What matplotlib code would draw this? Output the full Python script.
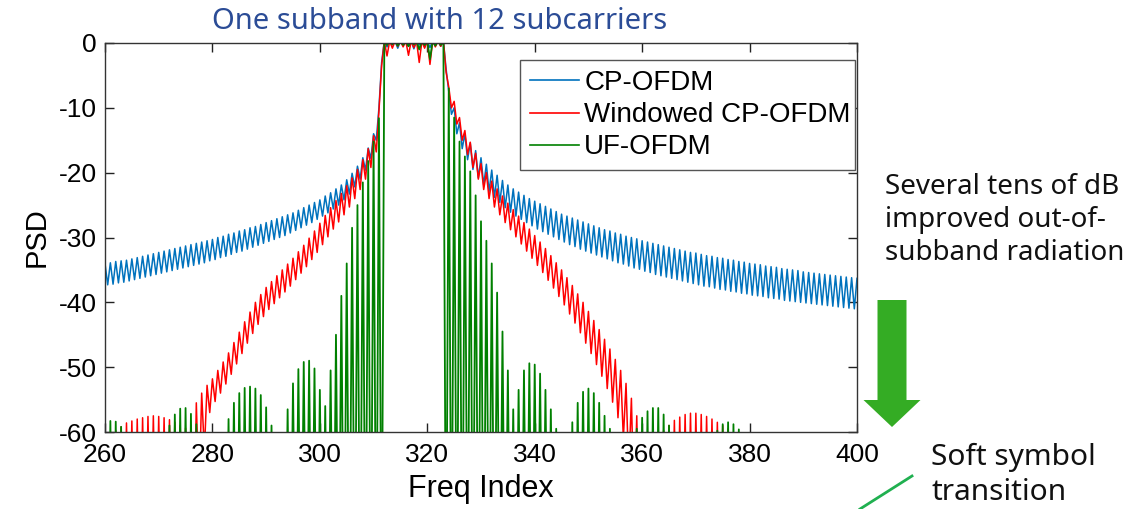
import matplotlib.pyplot as plt
import numpy as np
from matplotlib.patches import FancyArrow

# Spectrum. The curves ripple once per subcarrier, so each
# series is stored as its local maxima (at integer index 260..400) and its
# local minima (at the half index 260.5..399.5 in between).
# Values far below -60 dB are simply "off the chart" and get clipped.
FREQ_START = 260
FREQ_STOP = 400

cp_ofdm_peaks = [
    -34.0, -33.9, -33.7, -33.6, -33.5, -33.3, -33.1, -32.9, -32.7, -32.5,  # 260
    -32.3, -32.1, -31.9, -31.7, -31.5, -31.3, -31.1, -30.9, -30.7, -30.5,  # 270
    -30.3, -30.0, -29.8, -29.5, -29.3, -29.0, -28.8, -28.5, -28.3, -28.0,  # 280
    -27.7, -27.4, -27.1, -26.8, -26.5, -26.2, -25.8, -25.4, -25.0, -24.6,  # 290
    -24.2, -23.6, -23.1, -22.5, -21.9, -21.1, -20.1, -19.0, -17.7, -16.2,  # 300
    -14.0, -10.0, 0.3, 0.3, 0.3, 0.3, 0.3, 0.3, 0.3, 0.3,  # 310
    0.3, 0.3, 0.3, 0.3, -7.5, -10.0, -12.3, -14.0, -15.4, -16.6,  # 320
    -17.7, -18.7, -19.6, -20.4, -21.2, -21.9, -22.5, -23.0, -23.5, -24.0,  # 330
    -24.4, -24.8, -25.2, -25.6, -26.0, -26.4, -26.7, -27.0, -27.3, -27.6,  # 340
    -27.9, -28.2, -28.5, -28.8, -29.0, -29.3, -29.5, -29.8, -30.0, -30.2,  # 350
    -30.5, -30.7, -30.9, -31.1, -31.3, -31.5, -31.7, -31.9, -32.1, -32.3,  # 360
    -32.4, -32.6, -32.8, -32.9, -33.1, -33.2, -33.4, -33.5, -33.7, -33.8,  # 370
    -34.0, -34.1, -34.2, -34.4, -34.5, -34.6, -34.8, -34.9, -35.0, -35.1,  # 380
    -35.3, -35.4, -35.5, -35.6, -35.7, -35.8, -35.9, -36.0, -36.1, -36.2,  # 390
    -36.3,  # 400
]
cp_ofdm_dips = [
    -37.3, -37.2, -37.0, -36.9, -36.7, -36.5, -36.3, -36.1, -35.9, -35.7,  # 260.5
    -35.5, -35.3, -35.1, -34.9, -34.7, -34.5, -34.3, -34.1, -33.9, -33.6,  # 270.5
    -33.4, -33.1, -32.9, -32.6, -32.3, -32.1, -31.8, -31.5, -31.2, -30.9,  # 280.5
    -30.6, -30.3, -30.0, -29.7, -29.3, -28.9, -28.5, -28.1, -27.7, -27.2,  # 290.5
    -26.7, -26.2, -25.6, -25.0, -24.2, -23.3, -22.2, -21.0, -19.6, -17.8,  # 300.5
    -15.0, -3.0, -0.6, -0.3, -0.8, -0.4, -0.5, -0.9, -0.3, -0.6,  # 310.5
    -0.7, -0.4, -0.5, -4.0, -11.0, -14.0, -16.3, -18.0, -19.5, -20.8,  # 320.5
    -21.9, -22.9, -23.8, -24.6, -25.4, -26.1, -26.7, -27.2, -27.7, -28.2,  # 330.5
    -28.7, -29.1, -29.5, -29.9, -30.3, -30.7, -31.1, -31.4, -31.8, -32.1,  # 340.5
    -32.4, -32.7, -33.0, -33.3, -33.6, -33.9, -34.1, -34.4, -34.7, -34.9,  # 350.5
    -35.2, -35.4, -35.7, -35.9, -36.1, -36.3, -36.5, -36.7, -36.9, -37.1,  # 360.5
    -37.3, -37.5, -37.6, -37.8, -38.0, -38.1, -38.3, -38.4, -38.6, -38.7,  # 370.5
    -38.9, -39.0, -39.1, -39.3, -39.4, -39.5, -39.7, -39.8, -39.9, -40.0,  # 380.5
    -40.1, -40.2, -40.3, -40.4, -40.5, -40.6, -40.7, -40.8, -40.9, -41.0,  # 390.5
]

windowed_peaks = [
    -66.0, -62.0, -59.8, -59.2, -58.6, -58.3, -58.0, -57.8, -57.6, -57.5,  # 260
    -57.6, -57.8, -58.1, -58.5, -59.0, -59.4, -59.6, -55.5, -54.0, -52.8,  # 270
    -51.8, -50.5, -49.2, -47.8, -46.2, -44.6, -43.0, -41.5, -40.0, -38.8,  # 280
    -37.7, -36.8, -35.9, -35.0, -34.1, -33.2, -32.2, -31.2, -30.1, -29.0,  # 290
    -27.8, -26.6, -25.4, -24.3, -23.2, -22.0, -20.8, -19.5, -18.0, -16.3,  # 300
    -14.3, -10.5, 0.3, 0.3, 0.3, 0.3, 0.3, 0.3, 0.3, 0.3,  # 310
    0.3, 0.3, 0.3, 0.3, -6.8, -9.0, -11.5, -13.5, -15.3, -17.0,  # 320
    -18.6, -20.0, -21.3, -22.5, -23.6, -24.7, -25.7, -26.7, -27.7, -28.7,  # 330
    -29.7, -30.7, -31.7, -32.8, -33.9, -35.0, -36.2, -37.4, -38.7, -40.0,  # 340
    -41.4, -42.8, -44.2, -45.7, -47.2, -48.8, -50.5, -52.5, -54.8, -57.5,  # 350
    -61.0, -65.0, -70.0, -62.0, -59.8, -59.0, -58.2, -57.7, -57.3, -57.1,  # 360
    -57.1, -57.3, -57.6, -58.0, -58.5, -59.0, -59.5, -60.3, -62.0, -66.0,  # 370
    -75.0, -75.0, -75.0, -75.0, -75.0, -75.0, -75.0, -75.0, -75.0, -75.0,  # 380
    -75.0, -75.0, -75.0, -75.0, -75.0, -75.0, -75.0, -75.0, -75.0, -75.0,  # 390
    -75.0,  # 400
]
windowed_dips = [
    -80.0, -80.0, -80.0, -80.0, -80.0, -80.0, -80.0, -80.0, -80.0, -80.0,  # 260.5
    -80.0, -80.0, -80.0, -80.0, -80.0, -80.0, -80.0, -70.0, -63.0, -57.0,  # 270.5
    -55.3, -54.0, -52.6, -51.1, -49.5, -47.9, -46.3, -44.8, -43.4, -42.2,  # 280.5
    -41.1, -40.2, -39.3, -38.4, -37.5, -36.5, -35.5, -34.5, -33.4, -32.3,  # 290.5
    -31.1, -29.9, -28.7, -27.6, -26.5, -25.3, -24.0, -22.6, -21.0, -19.2,  # 300.5
    -16.8, -3.5, -2.0, -0.8, -0.5, -0.6, -1.9, -0.7, -3.0, -0.8,  # 310.5
    -3.3, -0.6, -0.5, -4.5, -10.0, -12.5, -15.0, -17.2, -19.2, -21.0,  # 320.5
    -22.6, -24.0, -25.3, -26.5, -27.7, -28.8, -29.9, -31.0, -32.1, -33.2,  # 330.5
    -34.3, -35.4, -36.6, -37.8, -39.1, -40.4, -41.8, -43.2, -44.7, -46.3,  # 340.5
    -47.9, -49.6, -51.4, -53.3, -55.4, -57.8, -61.0, -66.0, -72.0, -80.0,  # 350.5
    -80.0, -80.0, -80.0, -80.0, -80.0, -80.0, -80.0, -80.0, -80.0, -80.0,  # 360.5
    -80.0, -80.0, -80.0, -80.0, -80.0, -80.0, -80.0, -80.0, -80.0, -80.0,  # 370.5
    -80.0, -80.0, -80.0, -80.0, -80.0, -80.0, -80.0, -80.0, -80.0, -80.0,  # 380.5
    -80.0, -80.0, -80.0, -80.0, -80.0, -80.0, -80.0, -80.0, -80.0, -80.0,  # 390.5
]

uf_ofdm_peaks = [
    -58.8, -58.3, -58.4, -59.2, -90.0, -90.0, -90.0, -90.0, -90.0, -90.0,  # 260
    -90.0, -90.0, -59.0, -57.3, -56.4, -56.3, -57.2, -58.8, -90.0, -90.0,  # 270
    -90.0, -90.0, -90.0, -58.0, -55.5, -54.0, -53.2, -53.0, -53.3, -54.3,  # 280
    -56.2, -59.0, -90.0, -90.0, -56.5, -52.5, -50.3, -49.2, -49.0, -50.2,  # 290
    -53.5, -56.0, -50.5, -45.0, -39.0, -34.0, -28.5, -25.0, -21.5, -18.2,  # 300
    -15.2, -11.6, 0.3, 0.3, 0.3, 0.3, 0.3, 0.3, 0.3, 0.3,  # 310
    0.3, 0.3, 0.3, 0.3, -7.0, -11.5, -15.2, -17.5, -19.8, -23.5,  # 320
    -27.5, -30.5, -34.0, -38.5, -44.5, -50.5, -56.5, -53.5, -50.5, -49.4,  # 330
    -49.6, -51.0, -53.5, -56.5, -59.5, -90.0, -90.0, -58.5, -55.5, -53.8,  # 340
    -53.3, -54.0, -55.5, -57.5, -59.5, -90.0, -90.0, -90.0, -90.0, -59.5,  # 350
    -57.8, -56.8, -56.3, -56.3, -57.3, -59.0, -90.0, -90.0, -90.0, -90.0,  # 360
    -90.0, -90.0, -90.0, -90.0, -59.8, -58.8, -58.5, -58.8, -59.6, -90.0,  # 370
    -90.0, -90.0, -90.0, -90.0, -90.0, -90.0, -90.0, -90.0, -90.0, -90.0,  # 380
    -90.0, -90.0, -90.0, -90.0, -90.0, -90.0, -90.0, -90.0, -90.0, -90.0,  # 390
    -90.0,  # 400
]
uf_ofdm_dips = [
    -90.0, -90.0, -90.0, -90.0, -90.0, -90.0, -90.0, -90.0, -90.0, -90.0,  # 260.5
    -90.0, -90.0, -90.0, -90.0, -90.0, -90.0, -90.0, -90.0, -90.0, -90.0,  # 270.5
    -90.0, -90.0, -90.0, -90.0, -90.0, -90.0, -90.0, -90.0, -90.0, -90.0,  # 280.5
    -90.0, -90.0, -90.0, -90.0, -90.0, -90.0, -90.0, -90.0, -90.0, -90.0,  # 290.5
    -90.0, -90.0, -90.0, -90.0, -90.0, -90.0, -90.0, -90.0, -90.0, -90.0,  # 300.5
    -90.0, -90.0, -0.3, -0.2, -0.4, -0.3, -0.5, -0.2, -1.0, -0.3,  # 310.5
    -2.5, -0.4, -0.3, -90.0, -90.0, -90.0, -90.0, -90.0, -90.0, -90.0,  # 320.5
    -90.0, -90.0, -90.0, -90.0, -90.0, -90.0, -90.0, -90.0, -90.0, -90.0,  # 330.5
    -90.0, -90.0, -90.0, -90.0, -90.0, -90.0, -90.0, -90.0, -90.0, -90.0,  # 340.5
    -90.0, -90.0, -90.0, -90.0, -90.0, -90.0, -90.0, -90.0, -90.0, -90.0,  # 350.5
    -90.0, -90.0, -90.0, -90.0, -90.0, -90.0, -90.0, -90.0, -90.0, -90.0,  # 360.5
    -90.0, -90.0, -90.0, -90.0, -90.0, -90.0, -90.0, -90.0, -90.0, -90.0,  # 370.5
    -90.0, -90.0, -90.0, -90.0, -90.0, -90.0, -90.0, -90.0, -90.0, -90.0,  # 380.5
    -90.0, -90.0, -90.0, -90.0, -90.0, -90.0, -90.0, -90.0, -90.0, -90.0,  # 390.5
]

# name, maxima, minima, colour, line width
SERIES = [
    ("CP-OFDM", cp_ofdm_peaks, cp_ofdm_dips, "#0072BD", 1.1),
    ("Windowed CP-OFDM", windowed_peaks, windowed_dips, "#FF0000", 1.1),
    ("UF-OFDM", uf_ofdm_peaks, uf_ofdm_dips, "#008000", 1.3),
]

X_TICKS = [260, 280, 300, 320, 340, 360, 380, 400]
Y_TICKS = [0, -10, -20, -30, -40, -50, -60]

TITLE = "One subband with 12 subcarriers"
NOTE_LINES = ["Several tens of dB", "improved out-of-", "subband radiation"]
SOFT_LINES = ["Soft symbol", "transition"]

W, H = 1140, 509
SLIDE_FONT = ["Noto Sans", "DejaVu Sans"]
PLOT_FONT = ["Liberation Sans", "DejaVu Sans"]

plt.rcParams["axes.unicode_minus"] = False  # MATLAB style hyphen minus


def interleave(peaks, dips):
    y = np.empty(len(peaks) + len(dips))
    y[0::2] = peaks
    y[1::2] = dips
    return y


freq = np.arange(FREQ_START, FREQ_STOP + 0.25, 0.5)

fig = plt.figure(figsize=(W / 100, H / 100), dpi=100)
fig.patch.set_facecolor("white")

# plot area in pixel terms: x 105..857, y 43..432
ax = fig.add_axes([105 / W, 1 - 432 / H, 752 / W, 389 / H])
for name, peaks, dips, color, lw in SERIES:
    ax.plot(freq, interleave(peaks, dips), color=color, lw=lw, label=name)

ax.set_xlim(FREQ_START, FREQ_STOP)
ax.set_ylim(-60, 0)
ax.set_xticks(X_TICKS)
ax.set_yticks(Y_TICKS)
ax.tick_params(direction="in", length=6.5, width=1, top=True, right=True,
               labelsize=19, colors="#222222")
ax.tick_params(axis="x", pad=8)
ax.tick_params(axis="y", pad=6)
for lab in ax.get_xticklabels() + ax.get_yticklabels():
    lab.set_family(PLOT_FONT)
    lab.set_color("black")
for sp in ax.spines.values():
    sp.set_color("#333333")
    sp.set_linewidth(1)

ax.set_xlabel("Freq Index", family=PLOT_FONT, fontsize=22, labelpad=5)
ax.set_ylabel("PSD", family=PLOT_FONT, fontsize=21, labelpad=6)

leg = ax.legend(loc="upper left", bbox_to_anchor=(0.552, 0.681, 0.446, 0.275),
                mode="expand", borderaxespad=0, fancybox=False, framealpha=1,
                prop={"family": PLOT_FONT, "size": 20}, handlelength=1.75,
                handletextpad=0.2, labelspacing=0.22, borderpad=0.36)
leg.get_frame().set_edgecolor("#555555")
leg.get_frame().set_linewidth(1)
for line in leg.get_lines():
    line.set_linewidth(1.2)

# slide decorations drawn in pixel coordinates
ov = fig.add_axes([0, 0, 1, 1], facecolor="none")
ov.set_xlim(0, W)
ov.set_ylim(H, 0)
ov.axis("off")

ov.text(440, 21, TITLE, color="#2b4c96", fontsize=21, family=SLIDE_FONT,
        ha="center", va="center")
for i, line in enumerate(NOTE_LINES):
    ov.text(885, 187 + 33 * i, line, fontsize=20, family=SLIDE_FONT,
            ha="left", va="center", color="#111111")
for i, line in enumerate(SOFT_LINES):
    ov.text(931, 457 + 36 * i, line, fontsize=21.5, family=SLIDE_FONT,
            ha="left", va="center", color="#111111")

ov.add_patch(FancyArrow(892, 300, 0, 127, width=29, head_width=57,
                        head_length=27, length_includes_head=True,
                        color="#34ac24", lw=0))
ov.plot([860, 912], [509, 476], color="#20b050", lw=2)

fig.savefig("out.png", dpi=100)
